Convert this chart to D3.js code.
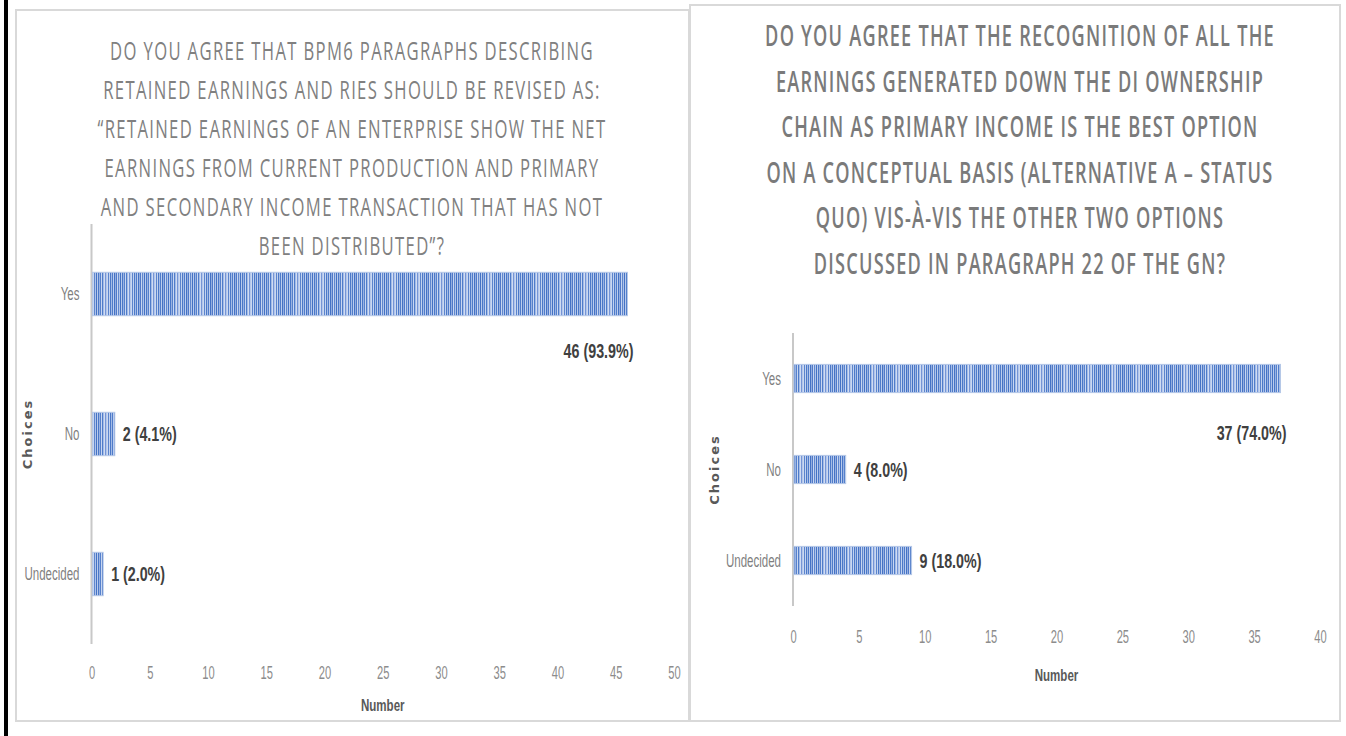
<!DOCTYPE html>
<html>
<head>
<meta charset="utf-8">
<script src="https://cdn.jsdelivr.net/npm/d3@7"></script>
<style>
  body { margin: 0; background: #fff; }
  svg { display: block; }
</style>
</head>
<body>
<div id="chart"></div>
<script>
// Data
const categories = ["Yes", "No", "Undecided"];

const leftCounts = [46, 2, 1];
const leftLabels = ["46 (93.9%)", "2 (4.1%)", "1 (2.0%)"];
const leftTicks = [0, 5, 10, 15, 20, 25, 30, 35, 40, 45, 50];
const leftTitle = [
  "DO YOU AGREE THAT BPM6 PARAGRAPHS DESCRIBING",
  "RETAINED EARNINGS AND RIES SHOULD BE REVISED AS:",
  "\u201CRETAINED EARNINGS OF AN ENTERPRISE SHOW THE NET",
  "EARNINGS FROM CURRENT PRODUCTION AND PRIMARY",
  "AND SECONDARY INCOME TRANSACTION THAT HAS NOT",
  "BEEN DISTRIBUTED\u201D?",
];

const rightCounts = [37, 4, 9];
const rightLabels = ["37 (74.0%)", "4 (8.0%)", "9 (18.0%)"];
const rightTicks = [0, 5, 10, 15, 20, 25, 30, 35, 40];
const rightTitle = [
  "DO YOU AGREE THAT THE RECOGNITION OF ALL THE",
  "EARNINGS GENERATED DOWN THE DI OWNERSHIP",
  "CHAIN AS PRIMARY INCOME IS THE BEST OPTION",
  "ON A CONCEPTUAL BASIS (ALTERNATIVE A \u2013 STATUS",
  "QUO) VIS-\u00C0-VIS THE OTHER TWO OPTIONS",
  "DISCUSSED IN PARAGRAPH 22 OF THE GN?",
];

const sans = '"Liberation Sans", Arial, sans-serif';

const W = 1346, H = 736;
const svg = d3.select("#chart").append("svg").attr("width", W).attr("height", H);

// no condensed font installed, so squeeze text horizontally
function squeeze(sel, k) {
  sel.each(function () {
    const el = d3.select(this);
    el.attr("x", (+el.attr("x") || 0) / k).attr("transform", `scale(${k},1)`);
    el.selectAll("tspan").each(function () {
      const ts = d3.select(this);
      ts.attr("x", (+ts.attr("x") || 0) / k);
    });
  });
}

// Striped bar fill
const defs = svg.append("defs");
const pat = defs.append("pattern")
  .attr("id", "stripes")
  .attr("patternUnits", "userSpaceOnUse")
  .attr("width", 24).attr("height", 10);
const stripeColors = [
  "#4472c4", "#b9cbec", "#4a78c8", "#9ab3e2", "#5681cc", "#c9d7f1",
  "#4f7cca", "#a4bce6", "#d0dcf3", "#7595d6", "#b3c6ea", "#cad8f1",
  "#5b84cd", "#c3d3ef", "#4c79c8", "#a5bce6", "#4f7cca", "#bccdee",
  "#4472c4", "#93aedf", "#5079c9", "#c7d6f0", "#5f87ce", "#b0c4e9",
];
stripeColors.forEach((c, i) => {
  pat.append("rect").attr("x", i).attr("y", 0).attr("width", 1).attr("height", 10).attr("fill", c);
});

// Panel frames
svg.append("rect").attr("x", 4).attr("y", 0).attr("width", 4).attr("height", H).attr("fill", "#000");
svg.append("rect").attr("x", 16).attr("y", 10).attr("width", 673).attr("height", 711)
  .attr("fill", "#fff").attr("stroke", "#d9d9d9").attr("stroke-width", 2);
svg.append("rect").attr("x", 690).attr("y", 5).attr("width", 650).attr("height", 716)
  .attr("fill", "#fff").attr("stroke", "#d9d9d9").attr("stroke-width", 2);

function drawChart(cfg) {
  const { counts, labels, ticks, title } = cfg;

  const x = d3.scaleLinear().domain([0, d3.max(ticks)]).range([cfg.x0, cfg.x1]);
  const y = d3.scaleBand().domain(categories).range([cfg.y0, cfg.y1])
    .paddingInner(0.69).paddingOuter(0.345);

  // Title, squeezed so the first line matches the reference width
  const t = svg.append("text")
    .attr("text-anchor", "middle")
    .style("font-family", '"Open Sans", sans-serif')
    .style("font-size", cfg.titleSize + "px")
    .style("font-weight", cfg.titleWeight)
    .style("letter-spacing", cfg.titleSpacing + "px")
    .attr("fill", cfg.titleColor);
  title.forEach((line, i) => {
    t.append("tspan").attr("x", cfg.titleX).attr("y", cfg.titleY + i * cfg.titleStep).text(line);
  });
  const firstW = t.select("tspan").node().getComputedTextLength();
  squeeze(t, cfg.titleWidth / firstW);

  // Category axis line
  svg.append("line")
    .attr("x1", x(0)).attr("x2", x(0))
    .attr("y1", cfg.y0).attr("y2", cfg.y1)
    .attr("stroke", "#c8c8c8").attr("stroke-width", 2);

  // Bars
  svg.append("g").selectAll("rect")
    .data(categories)
    .join("rect")
    .attr("x", x(0) + 1)
    .attr("y", (d) => y(d))
    .attr("width", (d, i) => x(counts[i]) - x(0) - 1)
    .attr("height", y.bandwidth())
    .attr("fill", "url(#stripes)")
    .attr("stroke", "#b4c7e7")
    .attr("stroke-width", 1);

  // Category labels
  svg.append("g").selectAll("text")
    .data(categories)
    .join("text")
    .attr("x", x(0) - 12)
    .attr("y", (d) => y(d) + y.bandwidth() / 2)
    .attr("dy", "0.35em")
    .attr("text-anchor", "end")
    .style("font-family", sans)
    .style("font-size", "18px")
    .attr("fill", "#7f7f7f")
    .text((d) => d)
    .call(squeeze, 0.64);

  // Value labels
  const maxV = d3.max(counts);
  svg.append("g").selectAll("text")
    .data(categories)
    .join("text")
    .attr("x", (d, i) => counts[i] === maxV ? x(counts[i]) + 6 : x(counts[i]) + 8)
    .attr("y", (d, i) => y(d) + y.bandwidth() / 2 + (counts[i] === maxV ? cfg.maxDrop : 0))
    .attr("dy", "0.35em")
    .attr("text-anchor", (d, i) => counts[i] === maxV ? "end" : "start")
    .style("font-family", sans)
    .style("font-size", "21px")
    .style("font-weight", "bold")
    .attr("fill", "#404040")
    .text((d, i) => labels[i])
    .call(squeeze, 0.68);

  // Value axis
  const ax = svg.append("g")
    .attr("transform", `translate(0,${cfg.tickY})`)
    .call(d3.axisBottom(x).tickValues(ticks).tickSize(0).tickPadding(0));
  ax.select(".domain").remove();
  ax.selectAll("text")
    .attr("dy", "0.35em")
    .style("font-family", sans)
    .style("font-size", "18px")
    .attr("fill", "#8c8c8c")
    .call(squeeze, 0.62);

  // Axis titles
  svg.append("text")
    .attr("x", (cfg.x0 + cfg.x1) / 2)
    .attr("y", cfg.numberY)
    .attr("dy", "0.35em")
    .attr("text-anchor", "middle")
    .style("font-family", sans)
    .style("font-size", "17px")
    .style("font-weight", "bold")
    .attr("fill", "#595959")
    .text("Number")
    .call(squeeze, 0.68);

  svg.append("text")
    .attr("transform", `translate(${cfg.choicesX},${(cfg.y0 + cfg.y1) / 2}) rotate(-90)`)
    .attr("dy", "0.35em")
    .attr("text-anchor", "middle")
    .style("font-family", "'DejaVu Sans', sans-serif")
    .style("font-size", "13px")
    .style("font-weight", "bold")
    .style("letter-spacing", "2px")
    .attr("fill", "#595959")
    .text("Choices");
}

drawChart({
  counts: leftCounts, labels: leftLabels, ticks: leftTicks, title: leftTitle,
  x0: 91.5, x1: 674, y0: 224, y1: 644,
  tickY: 673, numberY: 705, choicesX: 27, maxDrop: 57,
  titleX: 352, titleY: 60, titleStep: 39, titleSize: 25, titleWeight: "normal",
  titleSpacing: 2, titleWidth: 484, titleColor: "#808080",
});

drawChart({
  counts: rightCounts, labels: rightLabels, ticks: rightTicks, title: rightTitle,
  x0: 793, x1: 1320, y0: 333, y1: 606,
  tickY: 637, numberY: 675, choicesX: 714, maxDrop: 54,
  titleX: 1020, titleY: 46, titleStep: 45.6, titleSize: 29, titleWeight: "600",
  titleSpacing: 2, titleWidth: 510, titleColor: "#7a7a7a",
});
</script>
</body>
</html>
